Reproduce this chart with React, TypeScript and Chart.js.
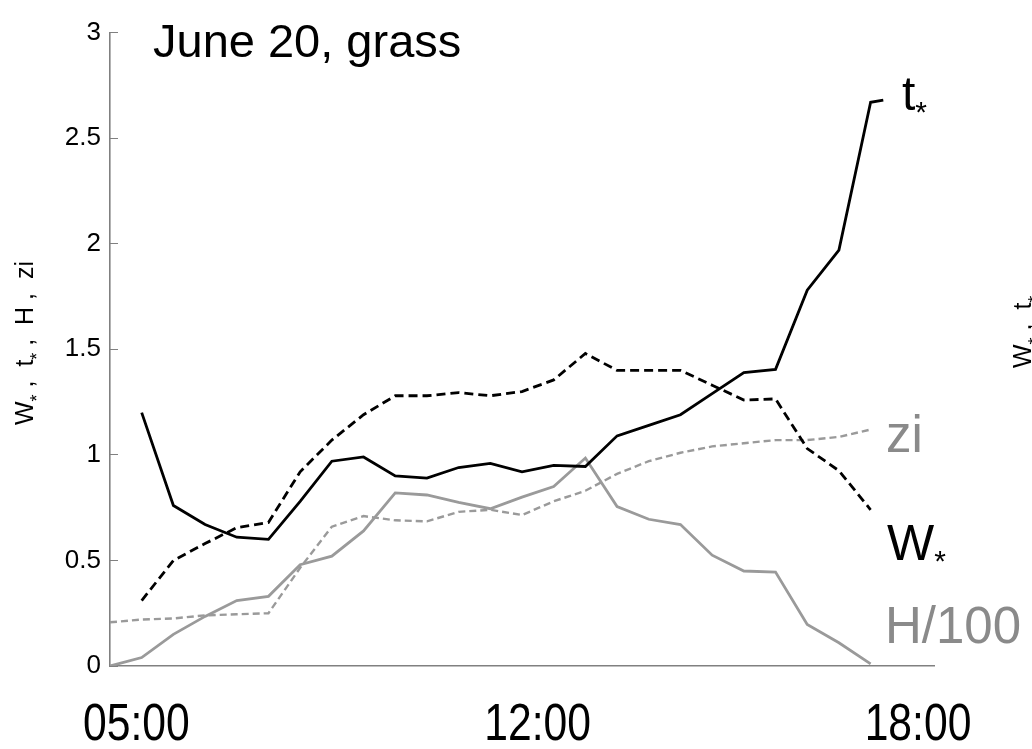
import React, { useEffect, useRef } from "react";
import { Chart, registerables } from "chart.js";

Chart.register(...registerables);

// Half-hourly sampling times of the day
const TIMES = [
  "05:00", "05:30", "06:00", "06:30", "07:00", "07:30", "08:00", "08:30",
  "09:00", "09:30", "10:00", "10:30", "11:00", "11:30", "12:00", "12:30",
  "13:00", "13:30", "14:00", "14:30", "15:00", "15:30", "16:00", "16:30",
  "17:00",
];

// t* and W* start at 05:30
const T_STAR = [
  1.2, 0.76, 0.67, 0.61, 0.6, 0.78, 0.97, 0.99, 0.9, 0.89, 0.94, 0.96,
  0.92, 0.95, 0.945, 1.09, 1.14, 1.19, 1.29, 1.39, 1.405, 1.78, 1.97, 2.67,
];
const T_STAR_TAIL_TIME = "17:12";
const T_STAR_TAIL = 2.68;

const W_STAR = [
  0.31, 0.5, 0.58, 0.655, 0.68, 0.92, 1.07, 1.19, 1.28, 1.28, 1.295, 1.28,
  1.3, 1.355, 1.48, 1.4, 1.4, 1.4, 1.33, 1.26, 1.265, 1.03, 0.925, 0.74,
];

// zi and H/100 start at 05:00
const ZI = [
  0.207, 0.22, 0.225, 0.24, 0.245, 0.25, 0.465, 0.66, 0.71, 0.69, 0.685,
  0.73, 0.74, 0.715, 0.78, 0.83, 0.91, 0.97, 1.01, 1.04, 1.055, 1.07, 1.07,
  1.085, 1.12,
];
const H_100 = [
  0, 0.04, 0.15, 0.235, 0.31, 0.33, 0.48, 0.52, 0.64, 0.82, 0.81, 0.775,
  0.745, 0.8, 0.85, 0.985, 0.755, 0.695, 0.67, 0.525, 0.45, 0.445, 0.197,
  0.11, 0.01,
];

const X_TICK_HOURS = [5, 12, 18];
const X_TICK_LABELS = ["05:00", "12:00", "18:00"];
const Y_TICKS = [0, 0.5, 1, 1.5, 2, 2.5, 3];
const Y_TICK_LABELS = ["0", "0.5", "1", "1.5", "2", "2.5", "3"];

const TITLE = "June 20, grass";

const SANS = '"Liberation Sans", Arial, Helvetica, sans-serif';
const AXIS = "#808080";
const BLACK = "#000000";
const GREY_LINE = "#9a9a9a";
const GREY_TEXT = "#8a8a8a";

const toHour = (t: string) => {
  const [h, m] = t.split(":").map(Number);
  return h + m / 60;
};

const series = (times: string[], values: number[]) =>
  values.map((v, i) => ({ x: toHour(times[i]), y: v }));

// Text drawn in pieces so the asterisks can sit as small subscripts
type Piece = { text: string; sub?: boolean };
const Y_TITLE: Piece[] = [
  { text: "W" }, { text: "*", sub: true }, { text: " ,  " },
  { text: "t" }, { text: "*", sub: true }, { text: " ,  " },
  { text: "H" }, { text: " ,  " }, { text: "zi" },
];
// y title of the next panel, only partly inside the canvas
const NEXT_Y_TITLE: Piece[] = [
  { text: "W" }, { text: "*", sub: true }, { text: " ,  " },
  { text: "t" }, { text: "*", sub: true },
];

function drawPieces(
  ctx: CanvasRenderingContext2D,
  pieces: Piece[],
  x: number,
  y: number,
  size: number,
  subSize: number,
  subDrop: number,
  center: boolean
) {
  const widths = pieces.map((p) => {
    ctx.font = `${p.sub ? subSize : size}px ${SANS}`;
    return ctx.measureText(p.text).width;
  });
  const total = widths.reduce((a, b) => a + b, 0);
  let cx = center ? x - total / 2 : x;
  pieces.forEach((p, i) => {
    ctx.font = `${p.sub ? subSize : size}px ${SANS}`;
    ctx.fillText(p.text, cx, p.sub ? y + subDrop : y);
    cx += widths[i];
  });
}

// Condensed time labels under the x axis, placed from the scale's own ticks
const timeLabels = {
  id: "timeLabels",
  afterDraw(chart: any) {
    const ctx: CanvasRenderingContext2D = chart.ctx;
    const xs = chart.scales.x;
    const squeeze = 0.82;
    ctx.save();
    ctx.fillStyle = BLACK;
    ctx.font = `52px ${SANS}`;
    ctx.textAlign = "center";
    ctx.textBaseline = "alphabetic";
    xs.ticks.forEach((t: any) => {
      const i = X_TICK_HOURS.indexOf(t.value);
      if (i < 0) return;
      const label = X_TICK_LABELS[i];
      const w = ctx.measureText(label).width * squeeze;
      let cx = xs.getPixelForValue(t.value) - 16;
      const minLeft = chart.chartArea.left - 27;
      if (cx - w / 2 < minLeft) cx = minLeft + w / 2;
      ctx.save();
      ctx.translate(cx, xs.top + 74);
      ctx.scale(squeeze, 1);
      ctx.fillText(label, 0, 0);
      ctx.restore();
    });
    ctx.restore();
  },
};

const annotations = {
  id: "annotations",
  afterDraw(chart: Chart) {
    const ctx = chart.ctx;
    ctx.save();
    ctx.textBaseline = "alphabetic";
    ctx.textAlign = "left";

    // title
    ctx.fillStyle = BLACK;
    ctx.font = `47px ${SANS}`;
    ctx.fillText(TITLE, 153, 57);

    // series names at the right
    drawPieces(ctx, [{ text: "t" }, { text: "*", sub: true }], 902, 110, 48, 30, 12, false);
    drawPieces(ctx, [{ text: "W" }, { text: "*", sub: true }], 887, 560, 50, 30, 11, false);
    ctx.fillStyle = GREY_TEXT;
    ctx.font = `51px ${SANS}`;
    ctx.fillText("zi", 886, 452);
    ctx.fillText("H/100", 885, 643);

    // y-axis title, rotated
    ctx.fillStyle = BLACK;
    ctx.save();
    ctx.translate(33, 343);
    ctx.rotate(-Math.PI / 2);
    drawPieces(ctx, Y_TITLE, 0, 0, 25, 18, 10, true);
    ctx.restore();

    // y-axis title of the next panel, cut by the edge
    ctx.save();
    ctx.translate(1031, 368);
    ctx.rotate(-Math.PI / 2);
    drawPieces(ctx, NEXT_Y_TITLE, 0, 0, 25, 18, 10, false);
    ctx.restore();

    ctx.restore();
  },
};

export default function App() {
  const canvasRef = useRef<HTMLCanvasElement | null>(null);

  useEffect(() => {
    if (!canvasRef.current) return;
    const chart = new Chart(canvasRef.current, {
      type: "line",
      data: {
        datasets: [
          {
            label: "t*",
            data: [
              ...series(TIMES.slice(1), T_STAR),
              { x: toHour(T_STAR_TAIL_TIME), y: T_STAR_TAIL },
            ],
            borderColor: BLACK,
            borderWidth: 2.8,
          },
          {
            label: "W*",
            data: series(TIMES.slice(1), W_STAR),
            borderColor: BLACK,
            borderWidth: 2.8,
            borderDash: [9, 5],
          },
          {
            label: "H/100",
            data: series(TIMES, H_100),
            borderColor: GREY_LINE,
            borderWidth: 2.8,
          },
          {
            label: "zi",
            data: series(TIMES, ZI),
            borderColor: GREY_LINE,
            borderWidth: 2.4,
            borderDash: [7, 4],
          },
        ],
      },
      options: {
        responsive: false,
        animation: false,
        layout: { padding: { left: 0, right: 98, top: 15, bottom: 0 } },
        elements: {
          point: { radius: 0 },
          line: { tension: 0, borderCapStyle: "butt", borderJoinStyle: "miter" },
        },
        plugins: {
          legend: { display: false },
          tooltip: { enabled: false },
        },
        scales: {
          x: {
            type: "linear",
            min: 5,
            max: 18,
            afterBuildTicks: (scale: any) => {
              scale.ticks = X_TICK_HOURS.map((v) => ({ value: v }));
            },
            afterFit: (scale: any) => {
              scale.height = 83;
            },
            grid: { display: false, drawTicks: false },
            border: { display: true, color: AXIS, width: 1.6 },
            ticks: { display: false },
          },
          y: {
            type: "linear",
            min: 0,
            max: 3,
            afterBuildTicks: (scale: any) => {
              scale.ticks = Y_TICKS.map((v) => ({ value: v }));
            },
            afterFit: (scale: any) => {
              scale.width = 110;
            },
            grid: {
              drawOnChartArea: false,
              drawTicks: true,
              tickLength: -8,
              color: AXIS,
              lineWidth: 1,
            },
            border: { display: true, color: AXIS, width: 1.6 },
            ticks: {
              padding: 17,
              color: BLACK,
              font: { family: SANS, size: 26 },
              callback: (v: any) => {
                const i = Y_TICKS.indexOf(Number(v));
                return i >= 0 ? Y_TICK_LABELS[i] : "";
              },
            },
          },
        },
      },
      plugins: [timeLabels, annotations],
    } as any);
    return () => chart.destroy();
  }, []);

  return (
    <div
      style={{
        position: "fixed",
        left: 0,
        top: 0,
        width: 1032,
        height: 749,
        background: "#ffffff",
        overflow: "hidden",
      }}
    >
      <canvas ref={canvasRef} width={1032} height={749} style={{ display: "block" }} />
    </div>
  );
}
